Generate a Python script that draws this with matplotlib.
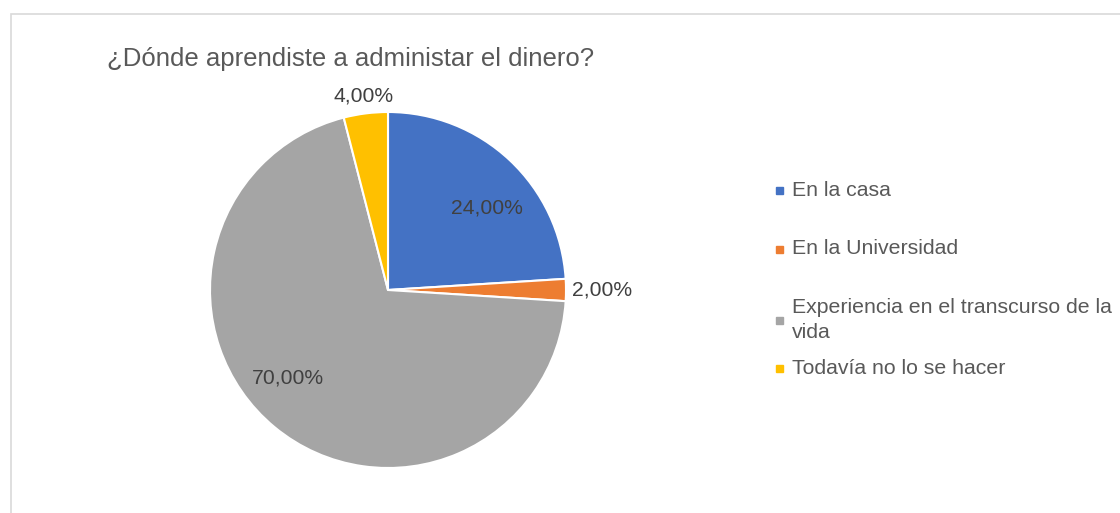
import matplotlib.pyplot as plt
from matplotlib.patches import Rectangle
import numpy as np

plt.rcParams['font.family'] = ['Liberation Sans', 'DejaVu Sans']

title = "¿Dónde aprendiste a administar el dinero?"
categories = ["En la casa", "En la Universidad",
              "Experiencia en el transcurso de la\nvida", "Todavía no lo se hacer"]
values = [24.0, 2.0, 70.0, 4.0]
colors = ["#4472C4", "#ED7D31", "#A5A5A5", "#FFC000"]
label_dist = [0.72, 1.2, 0.75, 1.1]   # label radius as fraction of pie radius
label_turn = [-7, 0, -9, 0]           # small angle nudge (deg) like excel does
text_col = "#595959"

W, H = 1120, 513
fig = plt.figure(figsize=(W / 100, H / 100), dpi=100)

# light frame of the chart area (cropped at right and bottom)
fig.patches.append(Rectangle((10.5 / W, -0.1), 2, (H - 13.5) / H + 0.1,
                             transform=fig.transFigure, fill=False,
                             edgecolor="#d9d9d9", lw=1.2))

cx, cy, r = 388, 290, 178
ax = fig.add_axes([(cx - r) / W, (H - cy - r) / H, 2 * r / W, 2 * r / H])
wedges, _ = ax.pie(values, colors=colors, startangle=90, counterclock=False,
                   wedgeprops=dict(edgecolor="white", linewidth=1.5))
ax.set_xlim(-1, 1)
ax.set_ylim(-1, 1)
ax.set_aspect("equal")
ax.axis("off")

for w, v, d, t in zip(wedges, values, label_dist, label_turn):
    ang = np.radians((w.theta1 + w.theta2) / 2 + t)
    ax.text(d * np.cos(ang), d * np.sin(ang), f"{v:.2f}%".replace(".", ","),
            ha="center", va="center", fontsize=15.2, color="#404040", clip_on=False)

fig.text(107 / W, 1 - 59 / H, title, fontsize=18.5, color=text_col,
         ha="left", va="center")

# legend drawn by hand, to match the spacing of the original
leg_y = [190, 249, 320, 368]
for cat, col, y in zip(categories, colors, leg_y):
    fig.patches.append(Rectangle((775.5 / W, 1 - (y + 3.5) / H), 7 / W, 7 / H,
                                 transform=fig.transFigure, color=col))
    fig.text(792 / W, 1 - y / H, cat, fontsize=15.3, color=text_col,
             ha="left", va="center", linespacing=1.4)

fig.savefig("out.png", dpi=100)
